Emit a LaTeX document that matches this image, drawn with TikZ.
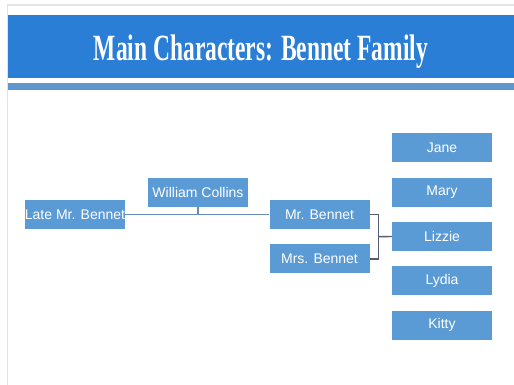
\documentclass[tikz,border=0pt]{standalone}
\usepackage{fontspec}
\setsansfont{Liberation Sans}
\newfontfamily\titlefont{Liberation Serif}[FakeStretch=0.635]
\usetikzlibrary{positioning,calc}
\definecolor{bannerblue}{RGB}{43,126,214}
\definecolor{stripeblue}{RGB}{96,150,206}
\definecolor{boxblue}{RGB}{91,155,213}
\definecolor{linkblue}{RGB}{104,140,186}
\definecolor{bracketgray}{RGB}{84,94,112}

\begin{document}
\begin{tikzpicture}[x=1pt,y=-1pt,
  person/.style={fill=boxblue,text=white,minimum width=100pt,minimum height=29pt,
                 inner sep=0pt,font=\sffamily\fontsize{14}{16}\selectfont},
  link/.style={draw=linkblue,line width=1.4pt},
  bracket/.style={draw=bracketgray,line width=1.4pt}]
  \useasboundingbox (0,0) rectangle (514,385);
  \fill[white] (0,0) rectangle (514,385);

  % slide frame, title banner and the stripe under it
  \draw[gray!22,line width=1.5pt] (514,5) -- (7.5,5) -- (7.5,385);
  \fill[bannerblue] (8,15) rectangle (514,78);
  \fill[stripeblue] (8,83) rectangle (514,90);
  \node[text=white,anchor=base,inner sep=0pt,
        font=\titlefont\bfseries\fontsize{37}{40}\selectfont] (title) at (261,61)
        {Main Characters: Bennet Family};

  % the family
  \node[person] (late) at (75,214.5) {Late Mr. Bennet};
  \node[person] (collins) at (198,192.5) {William Collins};
  \node[person] (mr) at (319.5,214.5) {Mr. Bennet};
  \node[person,below=15pt of mr] (mrs) {Mrs. Bennet};

  % the daughters, stacked round Lizzie
  \node[person] (lizzie) at (442,236.5) {Lizzie};
  \node[person,above=15pt of lizzie] (mary) {Mary};
  \node[person,above=15pt of mary] (jane) {Jane};
  \node[person,below=15pt of lizzie] (lydia) {Lydia};
  \node[person,below=15pt of lydia] (kitty) {Kitty};

  % connectors
  \draw[link] (late) -- (mr);
  \draw[link] (collins.south) -- (collins.south |- late.east);
  \coordinate (fork) at ($(mr.east)!0.5!(mrs.east)+(9,0)$);
  \draw[bracket] (mr.east) -| (fork) |- (mrs.east);
  \draw[bracket] (fork) -- (lizzie.west);
\end{tikzpicture}
\end{document}
